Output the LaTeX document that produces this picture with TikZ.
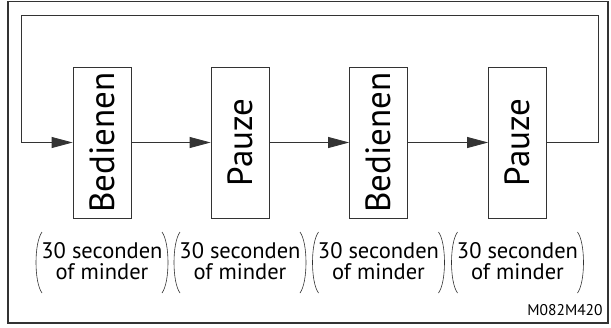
\documentclass[tikz,border=0pt]{standalone}
\usepackage{fontspec}
\setmainfont{PT Sans}
\usetikzlibrary{arrows.meta,positioning}

\begin{document}
\begin{tikzpicture}[x=1pt, y=-1pt, line width=0.8pt, draw=black!80,
  stepbox/.style={draw, minimum width=58pt, minimum height=151pt, inner sep=0pt,
    font=\fontsize{35}{35}\selectfont},
  note/.style={align=center, inner sep=0pt, font=\fontsize{22.5}{21.5}\selectfont},
  flow/.style={-{Triangle[length=21pt,width=11pt]}}]
  \useasboundingbox (0,0) rectangle (611,327);
  % frame
  \draw[line width=1.6pt] (8,1.5) rectangle (608,323);
  % steps and their durations
  \foreach \i/\x/\t in {1/102/Bedienen, 2/240/Pauze, 3/378.5/Bedienen, 4/517.5/Pauze} {
    \node[stepbox] (s\i) at (\x,142.5) {\rotatebox{90}{\t}};
    \node[note] (d\i) at (\x,261) {30 seconden\\of minder};
    \draw[line width=0.6pt] ({\x-60},232) .. controls ({\x-68},243) and ({\x-68},282) .. ({\x-60},293);
    \draw[line width=0.6pt] ({\x+60},232) .. controls ({\x+68},243) and ({\x+68},282) .. ({\x+60},293);
  }
  % arrows
  \foreach \a/\b in {1/2, 2/3, 3/4} {
    \draw[flow] (s\a) -- (s\b);
  }
  % loop back
  \coordinate (ne) at (598,15);
  \coordinate (nw) at (21,15);
  \draw[flow] (s4.east) -| (ne) -- (nw) |- (s1.west);
  \node[anchor=base east, inner sep=0pt, font=\fontsize{15.5}{15}\selectfont] (code) at (603,315) {M082M420};
\end{tikzpicture}
\end{document}
